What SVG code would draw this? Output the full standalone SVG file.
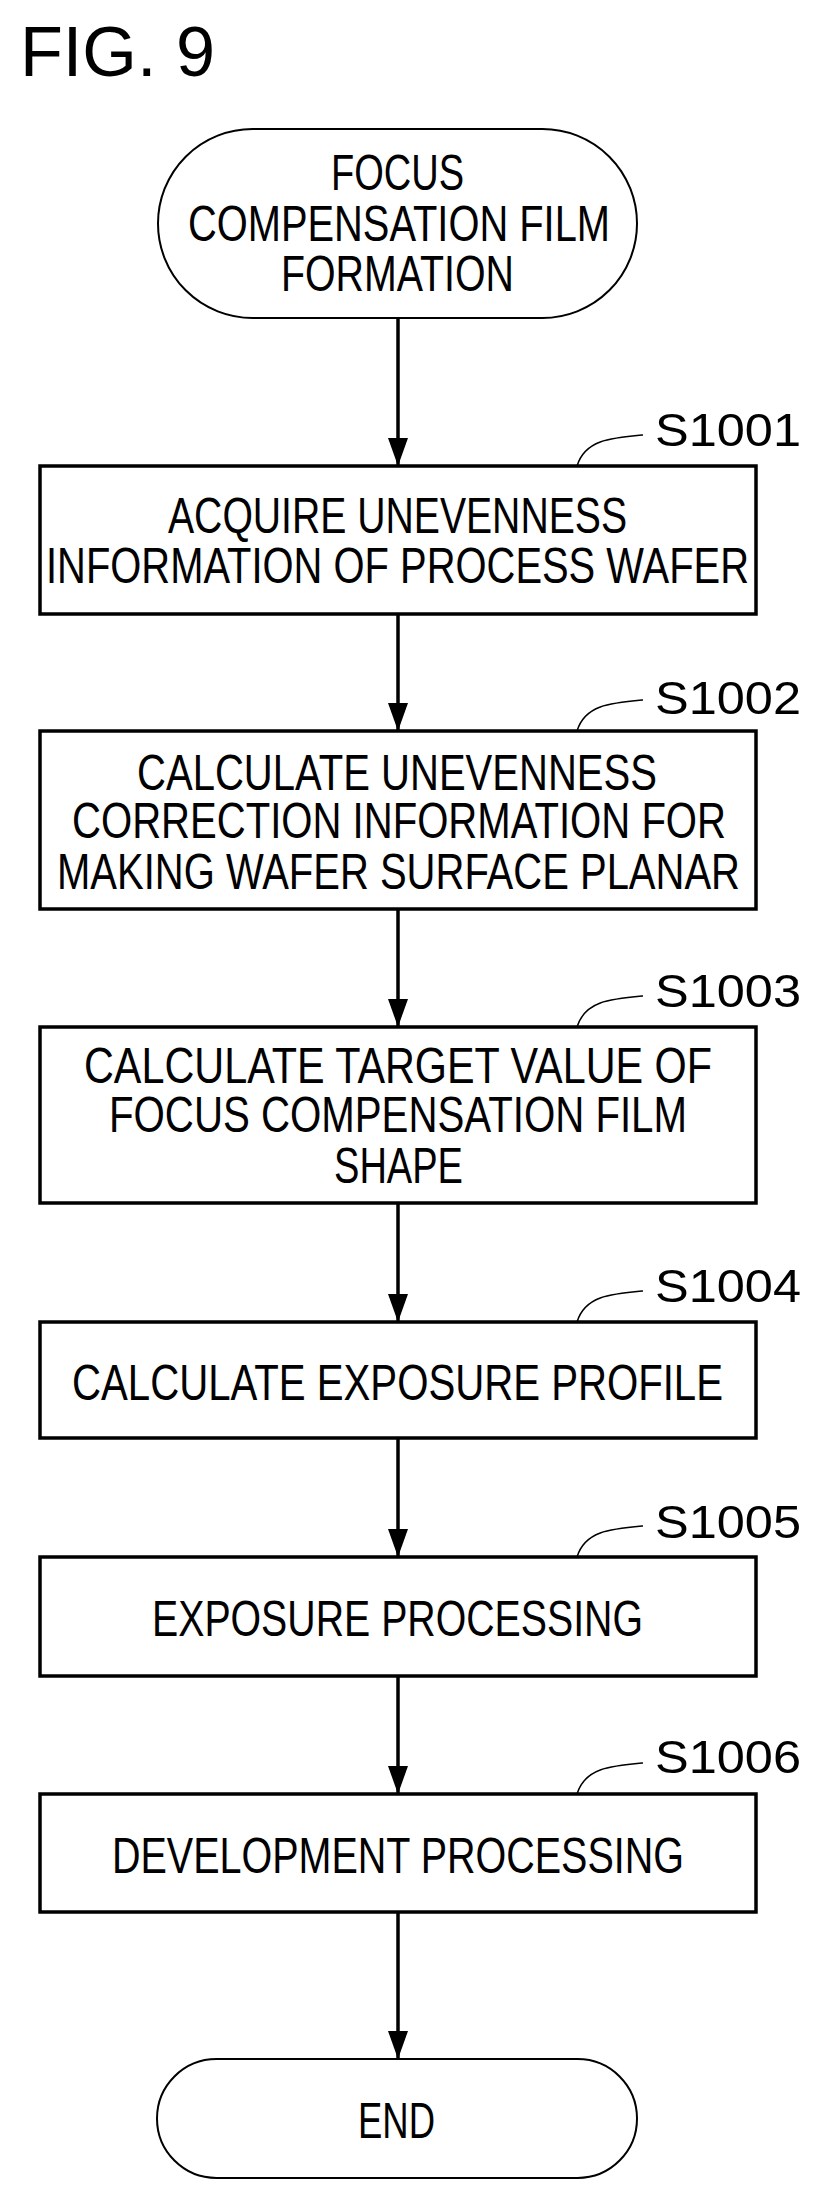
<svg xmlns="http://www.w3.org/2000/svg" width="815" height="2200" viewBox="0 0 815 2200">
<style>
text{font-family:"Liberation Sans",Arial,sans-serif;fill:#000;}
.t{font-size:50px;}
.s{font-size:46px;}
.box{fill:#fff;stroke:#000;stroke-width:3.5;}
.term{fill:#fff;stroke:#000;stroke-width:2;}
.c{stroke:#000;stroke-width:3.5;fill:none;}
.q{stroke:#000;stroke-width:1.5;fill:none;}
</style>
<defs><marker id="ah" viewBox="0 0 20 30" refX="20" refY="10" markerUnits="userSpaceOnUse" markerWidth="30" markerHeight="20" orient="auto"><path d="M0,0 L28,10 L0,20 Z" fill="#000"/></marker>
<marker id="a" viewBox="0 0 28 20" refX="28" refY="10" markerUnits="userSpaceOnUse" markerWidth="28" markerHeight="20" orient="auto"><path d="M0,0 L28,10 L0,20 Z" fill="#000"/></marker></defs>
<text x="20" y="76" font-size="70" textLength="195" lengthAdjust="spacingAndGlyphs">FIG. 9</text>
<g id="connectors">
<line class="c" x1="398" y1="318" x2="398" y2="466" marker-end="url(#a)"/>
<line class="c" x1="398" y1="614" x2="398" y2="731" marker-end="url(#a)"/>
<line class="c" x1="398" y1="909" x2="398" y2="1027" marker-end="url(#a)"/>
<line class="c" x1="398" y1="1203" x2="398" y2="1322" marker-end="url(#a)"/>
<line class="c" x1="398" y1="1438" x2="398" y2="1557" marker-end="url(#a)"/>
<line class="c" x1="398" y1="1676" x2="398" y2="1794" marker-end="url(#a)"/>
<line class="c" x1="398" y1="1912" x2="398" y2="2059" marker-end="url(#a)"/>
</g>
<g id="start">
<rect class="term" x="158" y="129" width="479" height="189" rx="94.5"/>
<text class="t" x="331" y="190" textLength="133" lengthAdjust="spacingAndGlyphs">FOCUS</text>
<text class="t" x="188" y="241" textLength="422" lengthAdjust="spacingAndGlyphs">COMPENSATION FILM</text>
<text class="t" x="281" y="291" textLength="233" lengthAdjust="spacingAndGlyphs">FORMATION</text>
</g>
<g id="s1001">
<rect class="box" x="40" y="466" width="716" height="148"/>
<text class="t" x="168" y="533" textLength="459" lengthAdjust="spacingAndGlyphs">ACQUIRE UNEVENNESS</text>
<text class="t" x="46" y="583" textLength="703" lengthAdjust="spacingAndGlyphs">INFORMATION OF PROCESS WAFER</text>
<path class="q" d="M577,466 C585,440 610,438 643,435"/>
<text class="s" x="655" y="446" textLength="146" lengthAdjust="spacingAndGlyphs">S1001</text>
</g>
<g id="s1002">
<rect class="box" x="40" y="731" width="716" height="178"/>
<text class="t" x="137" y="790" textLength="520" lengthAdjust="spacingAndGlyphs">CALCULATE UNEVENNESS</text>
<text class="t" x="72" y="838" textLength="654" lengthAdjust="spacingAndGlyphs">CORRECTION INFORMATION FOR</text>
<text class="t" x="57" y="889" textLength="683" lengthAdjust="spacingAndGlyphs">MAKING WAFER SURFACE PLANAR</text>
<path class="q" d="M577,731 C585,705 610,703 643,700"/>
<text class="s" x="655" y="714" textLength="146" lengthAdjust="spacingAndGlyphs">S1002</text>
</g>
<g id="s1003">
<rect class="box" x="40" y="1027" width="716" height="176"/>
<text class="t" x="84" y="1083" textLength="628" lengthAdjust="spacingAndGlyphs">CALCULATE TARGET VALUE OF</text>
<text class="t" x="109" y="1132" textLength="578" lengthAdjust="spacingAndGlyphs">FOCUS COMPENSATION FILM</text>
<text class="t" x="334" y="1183" textLength="129" lengthAdjust="spacingAndGlyphs">SHAPE</text>
<path class="q" d="M577,1027 C585,1001 610,999 643,996"/>
<text class="s" x="655" y="1007" textLength="146" lengthAdjust="spacingAndGlyphs">S1003</text>
</g>
<g id="s1004">
<rect class="box" x="40" y="1322" width="716" height="116"/>
<text class="t" x="72" y="1400" textLength="651" lengthAdjust="spacingAndGlyphs">CALCULATE EXPOSURE PROFILE</text>
<path class="q" d="M577,1322 C585,1296 610,1294 643,1291"/>
<text class="s" x="655" y="1302" textLength="146" lengthAdjust="spacingAndGlyphs">S1004</text>
</g>
<g id="s1005">
<rect class="box" x="40" y="1557" width="716" height="119"/>
<text class="t" x="152" y="1636" textLength="491" lengthAdjust="spacingAndGlyphs">EXPOSURE PROCESSING</text>
<path class="q" d="M577,1557 C585,1531 610,1529 643,1526"/>
<text class="s" x="655" y="1538" textLength="146" lengthAdjust="spacingAndGlyphs">S1005</text>
</g>
<g id="s1006">
<rect class="box" x="40" y="1794" width="716" height="118"/>
<text class="t" x="112" y="1873" textLength="572" lengthAdjust="spacingAndGlyphs">DEVELOPMENT PROCESSING</text>
<path class="q" d="M577,1794 C585,1768 610,1766 643,1763"/>
<text class="s" x="655" y="1773" textLength="146" lengthAdjust="spacingAndGlyphs">S1006</text>
</g>
<g id="end">
<rect class="term" x="157" y="2059" width="480" height="119" rx="59.5"/>
<text class="t" x="358" y="2138" textLength="77" lengthAdjust="spacingAndGlyphs">END</text>
</g>
</svg>
